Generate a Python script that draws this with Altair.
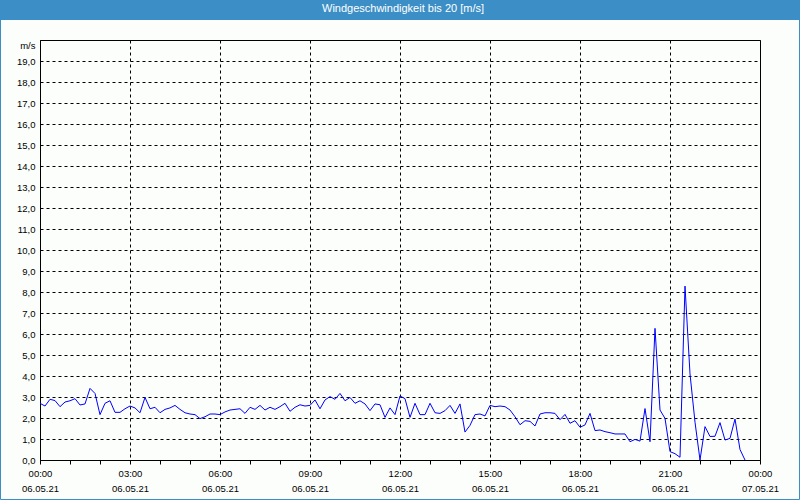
import altair as alt
import pandas as pd

TITLE = "Windgeschwindigkeit bis 20 [m/s]"

# minutes after 06.05.21 00:00 (10-minute readings)
minutes = list(range(0, 1420, 10))

# wind speed in m/s
speed = [
    2.70, 2.57, 2.89, 2.83, 2.54, 2.76, 2.82, 2.92, 2.62, 2.67,
    3.41, 3.17, 2.16, 2.70, 2.82, 2.27, 2.27, 2.44, 2.57, 2.48,
    2.25, 2.98, 2.44, 2.51, 2.25, 2.41, 2.48, 2.60, 2.41, 2.25,
    2.19, 2.16, 1.97, 2.06, 2.19, 2.19, 2.16, 2.29, 2.38, 2.41,
    2.44, 2.22, 2.51, 2.41, 2.60, 2.38, 2.51, 2.41, 2.54, 2.70,
    2.32, 2.51, 2.63, 2.57, 2.60, 2.86, 2.44, 2.86, 3.02, 2.89,
    3.17, 2.82, 2.98, 2.70, 2.82, 2.67, 2.35, 2.67, 2.63, 2.03,
    2.48, 2.16, 3.05, 2.92, 2.03, 2.70, 2.16, 2.16, 2.70, 2.25,
    2.22, 2.35, 2.60, 2.22, 2.67, 1.33, 1.65, 2.16, 2.19, 2.10,
    2.60, 2.54, 2.57, 2.54, 2.38, 2.06, 1.68, 1.87, 1.84, 1.62,
    2.19, 2.25, 2.25, 2.22, 1.92, 2.17, 1.75, 1.87, 1.56, 1.67,
    2.22, 1.40, 1.43, 1.35, 1.30, 1.24, 1.24, 1.24, 0.87, 0.98,
    0.90, 2.45, 0.87, 6.27, 2.38, 1.98, 0.40, 0.30, 0.13, 8.28,
    4.10, 1.80, 0.00, 1.59, 1.12, 1.13, 1.78, 0.95, 1.03, 1.95,
    0.50, 0.00,
]

times = [f"2021-05-06T{m // 60:02d}:{m % 60:02d}:00Z" for m in minutes]
df = pd.DataFrame({"time": times, "speed": speed})

FONT = "Liberation Sans"
BLUE = "#3c8fc6"
BG = "#fcfefc"

hour_values = [alt.DateTime(year=2021, month=5, date=6, hours=h, utc=True) for h in range(24)]
hour_values.append(alt.DateTime(year=2021, month=5, date=7, hours=0, utc=True))

x_axis = alt.Axis(
    values=hour_values,
    labelExpr="utchours(datum.value) % 3 == 0 ? [utcFormat(datum.value, '%H:%M'), utcFormat(datum.value, '%d.%m.%y')] : ''",
    grid=True,
    gridColor="black",
    gridDash=[3, 3],
    gridWidth=1,
    gridOpacity={"condition": {"test": "utchours(datum.value) % 3 == 0", "value": 1}, "value": 0},
    domainColor="black",
    tickColor="black",
    tickSize=4,
    labelFont=FONT,
    labelFontSize=9.5,
    labelColor="black",
    labelPadding=4,
    labelLineHeight=15,
    labelAngle=0,
    labelOverlap=False,
    labelFlush=False,
    title=None,
)

y_axis = alt.Axis(
    values=list(range(0, 21)),
    labelExpr="datum.value < 20 ? replace(format(datum.value, '.1f'), '.', ',') : ''",
    grid=True,
    gridColor="black",
    gridDash=[3, 3],
    gridWidth=1,
    gridOpacity={"condition": {"test": "datum.value > 0 && datum.value < 20", "value": 1}, "value": 0},
    ticks=False,
    domainColor="black",
    labelFont=FONT,
    labelFontSize=9.5,
    labelColor="black",
    labelPadding=5,
    title="m/s",
    titleAngle=0,
    titleX=-5,
    titleY=5,
    titleAlign="right",
    titleBaseline="middle",
    titleFont=FONT,
    titleFontSize=9.5,
    titleFontWeight="normal",
    titleColor="black",
)

line = alt.Chart(df).mark_line(color="#0000ff", strokeWidth=1).encode(
    x=alt.X(
        "time:T",
        scale=alt.Scale(
            type="utc",
            domain=[
                alt.DateTime(year=2021, month=5, date=6, hours=0, utc=True),
                alt.DateTime(year=2021, month=5, date=7, hours=0, utc=True),
            ],
        ),
        axis=x_axis,
    ),
    y=alt.Y("speed:Q", scale=alt.Scale(domain=[0, 20], nice=False), axis=y_axis),
)

title_df = pd.DataFrame({"label": [TITLE]})

bar = alt.Chart(title_df).mark_rect(color=BLUE).encode(
    x=alt.value(-40), x2=alt.value(760), y=alt.value(-40), y2=alt.value(-20)
)

title_text = alt.Chart(title_df).mark_text(
    color="white", font=FONT, fontSize=11, align="center", baseline="middle"
).encode(x=alt.value(363), y=alt.value(-31), text="label:N")

border = alt.Chart(title_df).mark_rect(fillOpacity=0, stroke=BLUE, strokeWidth=1).encode(
    x=alt.value(-39.5), x2=alt.value(759.5), y=alt.value(-39.5), y2=alt.value(459.5)
)

chart = (
    alt.layer(line, bar, title_text, border)
    .properties(
        width=720,
        height=420,
        autosize=alt.AutoSizeParams(type="none"),
        padding={"left": 40, "top": 40, "right": 40, "bottom": 40},
        background=BG,
    )
    .configure_view(stroke="black", strokeWidth=1, fill=BG)
)

chart.save("out.html", embed_options={"renderer": "svg", "actions": False})
